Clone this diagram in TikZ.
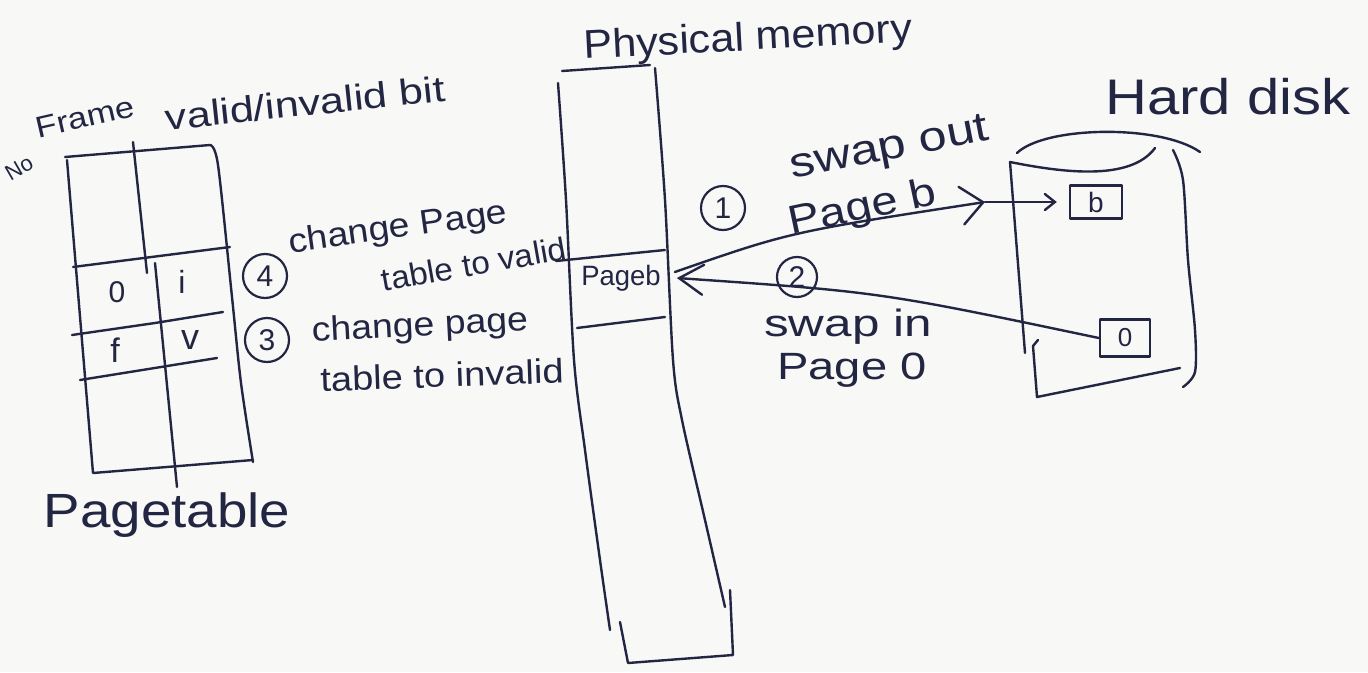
\documentclass[tikz,border=0pt]{standalone}
\usepackage{fontspec}
\setmainfont{Liberation Sans}
\usetikzlibrary{arrows.meta}
\definecolor{inkc}{RGB}{34,38,66}
\definecolor{paper}{RGB}{248,248,246}
\newcommand\fsz[1]{\fontsize{#1}{#1}\selectfont}
\tikzset{
  ink/.style={draw=inkc, line width=2.4pt, line cap=round, line join=round},
  lbl/.style={text=inkc, inner sep=0pt, anchor=center},
  circnum/.style={draw=inkc, line width=2.2pt, circle, inner sep=0pt, minimum size=44pt, text=inkc, font=\fsz{30}},
  diskbox/.style={ink, inner sep=0pt, text=inkc, font=\fsz{28}},
  bigtip/.style={-{Straight Barb[length=22pt,width=38pt,line cap=round]}},
  smalltip/.style={-{Straight Barb[length=10pt,width=16pt,line cap=round]}},
  intip/.style={-{Straight Barb[length=24pt,width=30pt,line cap=round]}}
}
\begin{document}
\begin{tikzpicture}[x=1pt,y=-1pt]
\fill[paper] (0,0) rectangle (1368,672);
\useasboundingbox (0,0) rectangle (1368,672);

% ---------- page table ----------
\draw[ink] (65,157) -- (210,145);
\draw[ink] (67,160) -- (93,473) -- (253,460);
\draw[ink] plot[smooth] coordinates {(210,145) (218,165) (232,297) (241,383) (253,462)};
\draw[ink] (133,142) -- (147,273);
\draw[ink] (155,263) -- (177,487);
\draw[ink] (73,267) -- (230,247);
\draw[ink] (72,335) -- (155,323) -- (223,312);
\draw[ink] (80,380) -- (217,358);
\node[lbl, font=\fsz{30}] (e0) at (117,292) {0};
\node[lbl, font=\fsz{32}] (ei) at (182,282) {i};
\node[lbl, font=\fsz{34}] (ef) at (115,350) {f};
\node[lbl, font=\fsz{36}] (ev) at (190,340) {v};

\node[lbl, rotate=30, font=\fsz{22}] (no) at (19,168) {No};
\node[lbl, rotate=13, xscale=1.15, font=\fsz{30}] (frame) at (85,117) {Frame};
\node[lbl, rotate=6, xscale=1.2, font=\fsz{36}] (vib) at (305,103) {valid/invalid bit};
\node[lbl, xscale=1.14, font=\fsz{48}] (pt) at (167,515) {Pagetable};

% ---------- notes 4 and 3 ----------
\node[circnum] (n4) at (265,276) {4};
\node[lbl, rotate=8, xscale=1.1, font=\fsz{34}] (chg1) at (398,229) {change Page};
\node[lbl, rotate=10, xscale=1.04, font=\fsz{32}] (tbl1) at (474,264) {table to valid};
\node[circnum] (n3) at (267,340) {3};
\node[lbl, rotate=3, xscale=1.1, font=\fsz{34}] (chg2) at (420,327) {change page};
\node[lbl, rotate=2, xscale=1.12, font=\fsz{34}] (tbl2) at (442,375) {table to invalid};

% ---------- physical memory ----------
\node[lbl, rotate=3, xscale=1.08, font=\fsz{40}] (phys) at (748,40) {Physical memory};
\draw[ink] (562,71) -- (650,65);
\draw[ink] plot[smooth] coordinates {(558,83) (566,200) (574,360) (585,450) (600,560) (610,630)};
\draw[ink] plot[smooth] coordinates {(655,68) (665,200) (673,360) (682,420) (705,520) (725,607)};
\draw[ink] (620,622) -- (628,663) -- (733,655) -- (730,590);
\draw[ink] (556,261) -- (665,250);
\draw[ink] (577,328) -- (665,317);
\node[lbl, xscale=0.98, font=\fsz{28}] (pageb) at (621,278) {Pageb};

% ---------- hard disk ----------
\node[lbl, xscale=1.16, font=\fsz{50}] (hd) at (1228,97) {Hard disk};
\draw[ink] (1017,153) .. controls (1045,126) and (1160,124) .. (1200,152);
\draw[ink] (1010,162) .. controls (1060,172) and (1130,182) .. (1155,148);
\draw[ink] (1010,162) -- (1025,353);
\draw[ink] (1038,340) -- (1033,346) -- (1037,397) -- (1180,368);
\draw[ink] plot[smooth] coordinates {(1173,150) (1183,180) (1188,260) (1195,330) (1195,372) (1183,387)};
\node[diskbox, minimum width=52pt, minimum height=33pt] (bbox) at (1096,202) {b};
\node[diskbox, minimum width=50pt, minimum height=37pt, font=\fsz{26}] (zbox) at (1125,338) {0};

% ---------- swap arrows ----------
\coordinate (m1) at (985,202);
\draw[ink, bigtip] ([xshift=14pt,yshift=6pt]pageb.east) .. controls (790,232) .. (m1);
\draw[ink, smalltip] (m1) -- ([xshift=-12pt]bbox.west);
\draw[ink, intip] (zbox.west) .. controls (880,292) .. ([xshift=16pt]pageb.east);

\node[circnum] (n1) at (723,208) {1};
\node[lbl, rotate=11, xscale=1.2, font=\fsz{42}] (so) at (890,150) {swap out};
\node[lbl, rotate=12, xscale=1.18, font=\fsz{40}] (pb) at (863,209) {Page b};
\node[circnum, minimum size=40pt] (n2) at (797,277) {2};
\node[lbl, xscale=1.3, font=\fsz{38}] (si) at (848,327) {swap in};
\node[lbl, xscale=1.24, font=\fsz{38}] (p0) at (852,370) {Page 0};
\end{tikzpicture}
\end{document}
